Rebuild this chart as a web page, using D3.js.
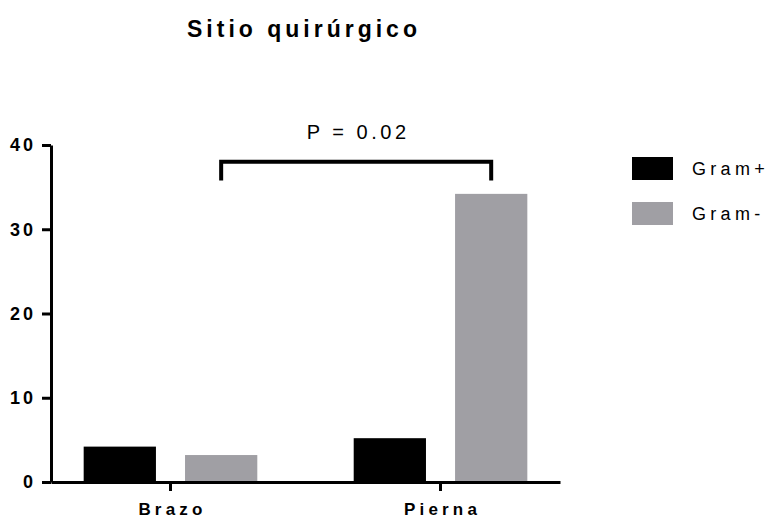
<!DOCTYPE html>
<html>
<head>
<meta charset="utf-8">
<script src="https://cdn.jsdelivr.net/npm/d3@7/dist/d3.min.js"></script>
<style>
  html, body { margin: 0; padding: 0; background: #fff; }
  svg { display: block; font-family: "Liberation Sans", Arial, sans-serif; }
</style>
</head>
<body>
<svg id="chart" width="773" height="520"></svg>
<script>
const title = "Sitio quirúrgico";
const categories = ["Brazo", "Pierna"];
const seriesNames = ["Gram+", "Gram-"];
const gramPos = [4.2, 5.2];
const gramNeg = [3.2, 34.2];
const yTicks = [0, 10, 20, 30, 40];
const pLabel = "P = 0.02";
const bracketTop = 38;
const bracketFoot = 35.8;
const colors = ["#000000", "#a09fa4"];

const svg = d3.select("#chart");
const y = d3.scaleLinear().domain([0, 40]).range([482, 145]);
const x0 = d3.scaleBand().domain(categories).range([51, 560]).paddingInner(0.357).paddingOuter(0.121);
const x1 = d3.scaleBand().domain(seriesNames).range([0, x0.bandwidth()]).paddingInner(0.287).paddingOuter(0);
const color = d3.scaleOrdinal().domain(seriesNames).range(colors);

const rows = categories.map((c, i) => ({ cat: c, vals: [
  { s: seriesNames[0], v: gramPos[i] },
  { s: seriesNames[1], v: gramNeg[i] }
]}));

// bars
const g = svg.append("g");
g.selectAll("g.grp").data(rows).join("g")
  .attr("transform", d => `translate(${x0(d.cat)},0)`)
  .selectAll("rect").data(d => d.vals).join("rect")
  .attr("x", d => x1(d.s))
  .attr("width", x1.bandwidth())
  .attr("y", d => y(d.v))
  .attr("height", d => y(0) - y(d.v))
  .attr("fill", d => color(d.s));

// y axis
const yAxis = svg.append("g").attr("transform", "translate(51,0)")
  .call(d3.axisLeft(y).tickValues(yTicks).tickSize(9).tickSizeOuter(0).tickPadding(6));
yAxis.select(".domain").attr("stroke", "#000").attr("stroke-width", 3);
yAxis.selectAll(".tick line").attr("stroke", "#000").attr("stroke-width", 3);
yAxis.selectAll(".tick text")
  .attr("font-size", 18).attr("font-weight", "bold").attr("fill", "#000")
  .style("letter-spacing", "3px");

// x axis
const xAxis = svg.append("g").attr("transform", `translate(0,${y(0)})`)
  .call(d3.axisBottom(x0).tickSize(9).tickSizeOuter(0).tickPadding(12));
xAxis.select(".domain").attr("stroke", "#000").attr("stroke-width", 3);
xAxis.selectAll(".tick line").attr("stroke", "#000").attr("stroke-width", 3);
xAxis.selectAll(".tick text")
  .attr("font-size", 17).attr("font-weight", "bold").attr("fill", "#000")
  .attr("dx", "2px")
  .style("letter-spacing", "4.2px");

// bracket between Gram- bars
const bx1 = x0(categories[0]) + x1(seriesNames[1]) + x1.bandwidth() / 2;
const bx2 = x0(categories[1]) + x1(seriesNames[1]) + x1.bandwidth() / 2;
svg.append("path")
  .attr("d", d3.line()([[bx1, y(bracketFoot)], [bx1, y(bracketTop)], [bx2, y(bracketTop)], [bx2, y(bracketFoot)]]))
  .attr("fill", "none").attr("stroke", "#000").attr("stroke-width", 4)
  .attr("stroke-linejoin", "miter");
svg.append("text")
  .attr("x", (bx1 + bx2) / 2 + 2).attr("y", 139)
  .attr("text-anchor", "middle")
  .attr("font-size", 20)
  .style("letter-spacing", "3.5px")
  .text(pLabel);

// title
svg.append("text")
  .attr("x", 304).attr("y", 37)
  .attr("text-anchor", "middle")
  .attr("font-size", 23).attr("font-weight", "bold")
  .style("letter-spacing", "4px")
  .text(title);

// legend
const leg = svg.append("g").attr("transform", "translate(632,157)");
const li = leg.selectAll("g").data(seriesNames).join("g")
  .attr("transform", (d, i) => `translate(0,${i * 45})`);
li.append("rect").attr("width", 41).attr("height", 23).attr("fill", d => color(d));
li.append("text").attr("x", 60).attr("y", 18)
  .attr("font-size", 18)
  .style("letter-spacing", "4.3px")
  .text(d => d);
</script>
</body>
</html>
